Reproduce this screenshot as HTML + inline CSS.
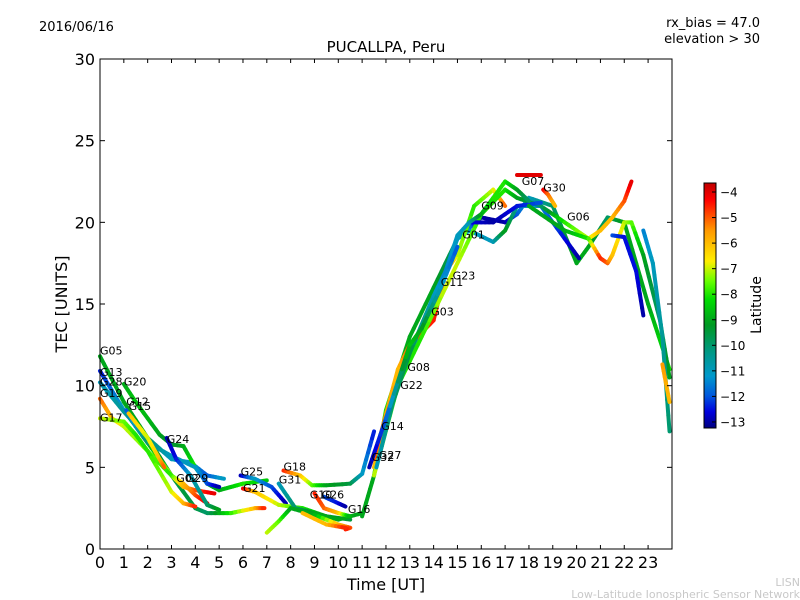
<!DOCTYPE html>
<html><head><meta charset="utf-8"><style>
body{margin:0;background:#fff;}
svg{display:block;font-family:"DejaVu Sans","Liberation Sans",sans-serif;}
</style></head><body>
<svg id="chart" width="800" height="600">
<defs>
<linearGradient id="cbgrad" x1="0" y1="1" x2="0" y2="0">
<stop offset="0" stop-color="#000080"/><stop offset="0.066" stop-color="#0000dd"/><stop offset="0.129" stop-color="#0055dd"/>
<stop offset="0.212" stop-color="#0099cc"/><stop offset="0.306" stop-color="#009988"/><stop offset="0.421" stop-color="#009922"/>
<stop offset="0.525" stop-color="#00dd00"/><stop offset="0.598" stop-color="#66ff00"/><stop offset="0.681" stop-color="#ffee00"/>
<stop offset="0.806" stop-color="#ff9900"/><stop offset="0.931" stop-color="#ff0000"/><stop offset="1" stop-color="#c00000"/>
</linearGradient></defs>
<text x="39" y="31" font-size="13">2016/06/16</text>
<text x="386" y="52" font-size="15" text-anchor="middle">PUCALLPA, Peru</text>
<text x="760" y="27" font-size="13" text-anchor="end">rx_bias = 47.0</text>
<text x="760" y="43" font-size="13" text-anchor="end">elevation &gt; 30</text>
<text transform="translate(67,304) rotate(-90)" font-size="16" text-anchor="middle">TEC [UNITS]</text>
<text x="386" y="590" font-size="16" text-anchor="middle">Time [UT]</text>
<text x="800" y="586" font-size="11" fill="#c8c8c8" text-anchor="end">LISN</text>
<text x="800" y="598" font-size="11" fill="#c8c8c8" text-anchor="end">Low-Latitude Ionospheric Sensor Network</text>
<g id="marks"></g>
<g id="labels"></g>
<rect x="100" y="59" width="572" height="490" fill="none" stroke="#000" stroke-width="1"/>
<g id="axes"></g>
<rect x="704" y="183" width="12" height="245" fill="url(#cbgrad)" stroke="#000"/>
<g id="cbaxis"></g>
<text transform="translate(761,305) rotate(-90)" font-size="14" text-anchor="middle">Latitude</text>
</svg>
<script>
const xTicks=[0,1,2,3,4,5,6,7,8,9,10,11,12,13,14,15,16,17,18,19,20,21,22,23];
const yTicks=[0,5,10,15,20,25,30];
const cbTicks=[-4,-5,-6,-7,-8,-9,-10,-11,-12,-13];
const trackNames=["G05","G13","G28","G20","G19","G17","G12","G15","G24","G25","G21","G31","G18","G10","G26","G16","G29","G14","G22","G08","G03","G23","G07","G30","G06","G11","G01","G09","G32","G27"];
const trackPoints=[
[[0,11.8,-9],[1,9,-9],[2,6.8,-9],[3,4.5,-9.5],[4,2.5,-9.5],[4.5,2.2,-10],[5.5,2.2,-8],[6.5,2.5,-6],[6.9,2.5,-4.5]],
[[0,10.9,-12.5],[1,8.5,-11],[2,6.5,-9],[3,4.5,-7],[3.5,3.8,-6],[4,3.6,-5],[4.8,3.4,-4]],
[[0,10.2,-11],[1,8.4,-10.5],[2,6.8,-10],[3,5.5,-11],[3.8,5.3,-11],[4.5,4.5,-12],[5.2,4.3,-11]],
[[1,10.1,-9],[1.5,9,-8.5],[2.5,7,-9],[3,6.4,-9.5],[3.5,6.3,-9],[4,5,-8],[4.5,4,-9],[5,3.6,-9],[5.5,3.8,-8.5],[6,4,-8],[7,4.2,-8.5]],
[[0,9.2,-5],[0.5,8,-6],[1,7.5,-7],[2,6,-7.5],[3,4.5,-8],[3.5,4,-6],[4,3.3,-5],[4.5,2.8,-4]],
[[0,8,-7],[1,7.8,-7.5],[1.5,7,-8],[2,6,-8],[3,3.5,-7],[3.5,2.8,-6],[4,2.6,-4.5]],
[[1.1,8.5,-12],[1.5,7.5,-11],[2,6.5,-10],[3,5.7,-11],[4,5,-11],[4.5,4,-12],[5,3.8,-13]],
[[1.2,8.3,-6],[2,6.8,-7],[2.5,5.5,-6],[2.7,5,-5]],
[[2.8,6.8,-13],[3.2,5.5,-12.5],[3.8,4.5,-11],[4.5,2.7,-10],[5,2.4,-9]],
[[5.9,4.5,-13],[6.5,4.3,-11],[7.2,3.8,-12],[7.8,2.8,-13]],
[[6,3.7,-4],[6.5,3.5,-6],[7.5,2.7,-7],[8.5,2.5,-8],[9.5,2.0,-9],[10.5,1.8,-9.5]],
[[7.5,4,-11],[8.2,2.5,-10],[9,2.2,-9],[10,1.8,-9],[11,2.2,-9]],
[[7.7,4.8,-4.5],[8.4,4.5,-6],[8.9,3.9,-7.5],[9.5,3.9,-9],[10.5,4,-9.5],[11,4.6,-11],[11.5,7.2,-12.5]],
[[9,3.4,-4.5],[9.4,2.5,-5],[10,2.2,-6],[10.5,2.0,-9]],
[[9.4,3.2,-12],[10,2.8,-12.5],[10.3,2.6,-13]],
[[7,1,-7],[7.5,1.7,-7.5],[8,2.5,-9],[9,2.1,-9],[10,1.5,-6],[10.5,1.3,-5],[10.3,1.2,-4.5]],
[[8.5,2.2,-6],[9.5,1.5,-6],[10.3,1.3,-4.5]],
[[11,2,-9],[11.5,4.5,-9],[12,8.5,-8],[13,13,-9],[14,16,-9],[15,19,-10],[16,20.3,-13],[17,20,-13],[17.5,20.5,-12],[18,21.5,-11],[19,21,-10],[20,17.5,-9],[20.5,18.5,-9],[21.3,20.3,-10],[22,20,-9],[23,15,-9],[23.9,11,-8]],
[[11.5,5,-6],[12,8,-5],[12.5,10,-10],[13,12,-11],[14,15,-11],[15,19,-11],[15.5,19.5,-11],[16.5,18.8,-11],[17,19.5,-9],[17.5,21,-10.5],[18.5,21,-11.5],[19.5,19,-12.5],[20.1,17.8,-13]],
[[11.5,5.5,-5],[12.5,11,-6],[13,12.5,-5],[14,14,-4.5],[14.5,17,-4.5],[15,18,-7],[15.7,21,-8],[16.5,22,-7],[17,21,-5]],
[[11.5,4.5,-7],[12.5,10,-8],[13.5,13,-8],[14.5,16,-7],[15,17.5,-7],[15.5,19,-7.5],[16,20.5,-8],[17,22,-8],[17.5,21.5,-9],[18.5,21,-10],[19.5,20,-8],[20.5,19,-7],[21,19.5,-6],[21.5,20.3,-6],[22,21.3,-5],[22.3,22.5,-4]],
[[15.5,20,-12.5],[16.5,20,-13],[17.5,21,-12.5],[18.5,21.2,-12]],
[[17.5,22.9,-4],[18.5,22.9,-4]],
[[18.6,22,-4],[18.8,21.7,-5],[19.1,21,-6]],
[[18,21,-9],[19,20,-9],[19.5,19.5,-9],[20.5,19,-8],[21,17.8,-4.5],[21.3,17.5,-5],[21.5,18,-6],[22,20,-7],[22.3,20,-7.5],[22.8,18,-9],[23.5,14,-10],[23.9,10.5,-9]],
[[21.5,19.2,-12],[22,19.1,-12.5],[22.5,17,-12.5],[22.8,14.3,-13]],
[[22.8,19.5,-11.5],[23.2,17.5,-11],[23.6,13,-10.5],[23.9,7.2,-10]],
[[11.6,5,-11],[12.3,9,-10],[13,12,-9.5],[14,15.5,-11],[14.5,17,-11.5],[15,19.2,-11],[15.5,20,-11],[16,20.5,-9],[16.5,21.5,-8],[17,22.5,-8],[17.5,22,-9],[18,21.3,-10]],
[[11.3,5,-13],[12,8,-12],[13,12.5,-8.5],[13.5,13.5,-9],[14.3,16,-11],[15,18.5,-12]],
[[23.6,11.3,-5.5],[23.9,9,-6]]
];
const labelText=["G05","G13","G28","G20","G19","G12","G15","G17","G24","G02","G29","G25","G21","G18","G31","G10","G26","G16","G32","G27","G14","G22","G08","G03","G11","G23","G01","G09","G07","G30","G06"];
const labelPos=[[0,11.9],[0,10.6],[0,10],[1,10],[0,9.3],[1.1,8.8],[1.2,8.5],[0,7.8],[2.8,6.5],[3.2,4.1],[3.6,4.1],[5.9,4.5],[6,3.5],[7.7,4.8],[7.5,4],[8.8,3.1],[9.3,3.1],[10.4,2.2],[11.4,5.4],[11.7,5.5],[11.8,7.3],[12.6,9.8],[12.9,10.9],[13.9,14.3],[14.3,16.1],[14.8,16.5],[15.2,19],[16,20.8],[17.7,22.3],[18.6,21.9],[19.6,20.1]];
const X=h=>100+h*23.83, Y=v=>549-v*16.333, CB=l=>192+(-4-l)*25.55;
const stops=[[-13.24,[0,0,128]],[-12.6,[0,0,221]],[-12,[0,85,221]],[-11.2,[0,153,204]],[-10.3,[0,153,136]],[-9.2,[0,153,34]],[-8.2,[0,221,0]],[-7.5,[102,255,0]],[-6.7,[255,238,0]],[-5.5,[255,153,0]],[-4.3,[255,0,0]],[-3.65,[192,0,0]]];
function col(l){l=Math.max(-13.24,Math.min(-3.65,l));for(let i=0;i<stops.length-1;i++){const a=stops[i],b=stops[i+1];if(l<=b[0]){const t=(l-a[0])/(b[0]-a[0]);const c=a[1].map((v,k)=>Math.round(v+(b[1][k]-v)*t));return `rgb(${c})`;}}return 'rgb(192,0,0)';}
const NS='http://www.w3.org/2000/svg';
function mk(tag,attrs,parent){const e=document.createElementNS(NS,tag);for(const k in attrs)e.setAttribute(k,attrs[k]);parent.appendChild(e);return e;}
const marks=document.getElementById('marks');
trackPoints.forEach((pts,ti)=>{
 const g=mk('g',{},marks);
 
 
 for(let i=0;i<pts.length-1;i++){
  const a=pts[i],b=pts[i+1];const n=6;
  for(let s=0;s<n;s++){
   const t0=s/n,t1=(s+1)/n;
   mk('line',{x1:X(a[0]+(b[0]-a[0])*t0),y1:Y(a[1]+(b[1]-a[1])*t0),x2:X(a[0]+(b[0]-a[0])*t1),y2:Y(a[1]+(b[1]-a[1])*t1),stroke:col(a[2]+(b[2]-a[2])*(t0+t1)/2),'stroke-width':4,'stroke-linecap':'round'},g);
  }
 }
});
const lab=document.getElementById('labels');
labelText.forEach((t,i)=>{
 const e=mk('text',{x:X(labelPos[i][0]),y:Y(labelPos[i][1]),'font-size':11},lab);
 e.textContent=t;
 
 
});
const ax=document.getElementById('axes');
xTicks.forEach(v=>{
 mk('line',{x1:X(v),x2:X(v),y1:549,y2:545,stroke:'#000'},ax);
 mk('line',{x1:X(v),x2:X(v),y1:59,y2:63,stroke:'#000'},ax);
 const t=mk('text',{x:X(v),y:568,'font-size':16,'text-anchor':'middle'},ax);t.textContent=v;
 
 
});
yTicks.forEach(v=>{
 mk('line',{x1:100,x2:105,y1:Y(v),y2:Y(v),stroke:'#000'},ax);
 mk('line',{x1:667,x2:672,y1:Y(v),y2:Y(v),stroke:'#000'},ax);
 const t=mk('text',{x:95,y:Y(v)+6,'font-size':16,'text-anchor':'end'},ax);t.textContent=v;
 
 
});
const cb=document.getElementById('cbaxis');
cbTicks.forEach(v=>{
 mk('line',{x1:712,x2:716,y1:CB(v),y2:CB(v),stroke:'#000'},cb);
 const t=mk('text',{x:720,y:CB(v)+4.5,'font-size':12},cb);t.textContent='\u2212'+Math.abs(v);
 
 
});
</script>
</body></html>
